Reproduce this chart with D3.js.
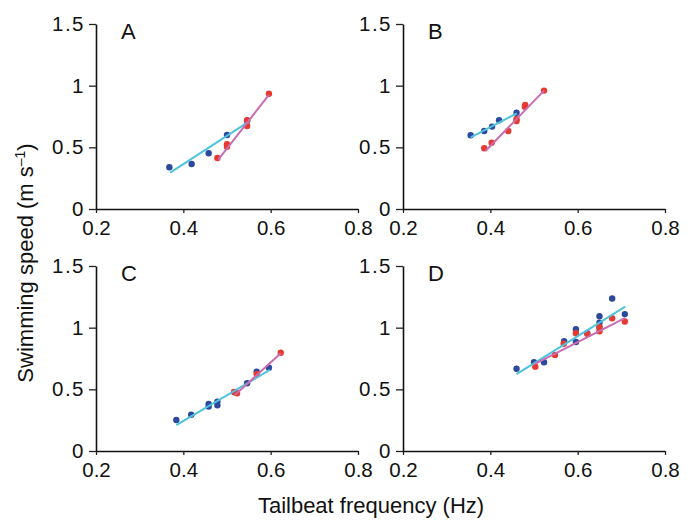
<!DOCTYPE html>
<html>
<head>
<meta charset="utf-8">
<script src="https://cdn.jsdelivr.net/npm/d3@7"></script>
<style>
  body { margin: 0; background: #fff; }
  svg text { font-family: "Liberation Sans", Arial, Helvetica, sans-serif; fill: #111; }
</style>
</head>
<body>
<svg id="chart" width="692" height="520"></svg>
<script>
// panel letters and tick values
const panelNames = ["A", "B", "C", "D"];
const xTicks = [0.2, 0.4, 0.6, 0.8];
const yTicks = [0, 0.5, 1, 1.5];

// [tailbeat frequency (Hz), swimming speed (m/s)]
const blueA = [[0.368, 0.338], [0.419, 0.365], [0.458, 0.452], [0.500, 0.600], [0.546, 0.716]];
const redA  = [[0.478, 0.414], [0.500, 0.505], [0.500, 0.525], [0.546, 0.673], [0.546, 0.720], [0.596, 0.935]];
const blueB = [[0.355, 0.598], [0.386, 0.633], [0.404, 0.668], [0.420, 0.719], [0.460, 0.781]];
const redB  = [[0.386, 0.492], [0.403, 0.538], [0.441, 0.633], [0.460, 0.714], [0.460, 0.730], [0.479, 0.830], [0.480, 0.843], [0.523, 0.960]];
const blueC = [[0.384, 0.251], [0.418, 0.294], [0.458, 0.381], [0.458, 0.360], [0.478, 0.400], [0.478, 0.370], [0.518, 0.476], [0.546, 0.549], [0.568, 0.643], [0.596, 0.676]];
const redC  = [[0.516, 0.478], [0.523, 0.468], [0.568, 0.624], [0.623, 0.797]];
const blueD = [[0.460, 0.667], [0.500, 0.720], [0.523, 0.720], [0.569, 0.890], [0.596, 0.987], [0.596, 0.884], [0.622, 0.955], [0.650, 1.092], [0.650, 1.040], [0.650, 1.000], [0.679, 1.236], [0.708, 1.110]];
const redD  = [[0.503, 0.684], [0.548, 0.779], [0.568, 0.870], [0.596, 0.955], [0.622, 0.950], [0.650, 0.970], [0.650, 1.005], [0.679, 1.076], [0.708, 1.050]];

// fitted regression lines (end points)
const fitBlueA = [[0.370, 0.295], [0.550, 0.708]];
const fitRedA  = [[0.480, 0.400], [0.596, 0.925]];
const fitBlueB = [[0.355, 0.580], [0.461, 0.776]];
const fitRedB  = [[0.389, 0.470], [0.523, 0.960]];
const fitBlueC = [[0.384, 0.210], [0.598, 0.657]];
const fitRedC  = [[0.518, 0.454], [0.623, 0.792]];
const fitBlueD = [[0.460, 0.624], [0.709, 1.170]];
const fitRedD  = [[0.500, 0.703], [0.709, 1.080]];

const blueSets = [blueA, blueB, blueC, blueD];
const redSets = [redA, redB, redC, redD];
const blueFits = [fitBlueA, fitBlueB, fitBlueC, fitBlueD];
const redFits = [fitRedA, fitRedB, fitRedC, fitRedD];

const svg = d3.select("#chart");
const pw = 262, ph = 185;
const origins = [[96, 24], [403, 24], [96, 266], [403, 266]];

const dotBlue = "#2c4a9c", dotRed = "#e63a30";
const lineBlue = "#4fc3de", lineRed = "#c96cb2";

panelNames.forEach(function(name, i) {
  const [ox, oy] = origins[i];
  const x = d3.scaleLinear().domain([0.2, 0.8]).range([ox, ox + pw]);
  const y = d3.scaleLinear().domain([0, 1.5]).range([oy + ph, oy]);
  const g = svg.append("g");

  const xAxis = g.append("g")
    .attr("transform", "translate(0," + (oy + ph) + ")")
    .call(d3.axisBottom(x).tickValues(xTicks).tickSize(4).tickSizeOuter(0).tickPadding(7).tickFormat(d3.format(".1f")));
  const yAxis = g.append("g")
    .attr("transform", "translate(" + ox + ",0)")
    .call(d3.axisLeft(y).tickValues(yTicks).tickSize(7).tickSizeOuter(0).tickPadding(4).tickFormat(d => d3.format("")(d)));

  [xAxis, yAxis].forEach(function(a) {
    a.attr("font-family", null).attr("font-size", null);
    a.select(".domain").attr("stroke", "#111").attr("stroke-width", 1.6);
    a.selectAll(".tick line").attr("stroke", "#222").attr("stroke-width", 1.3);
    a.selectAll(".tick text").style("font-size", "20.5px").attr("fill", "#111");
  });
  yAxis.selectAll(".tick text").style("letter-spacing", "1.5px");

  g.append("text")
    .attr("x", ox + 25).attr("y", oy + 15)
    .style("font-size", "22px")
    .text(name);

  const dots = g.append("g");
  dots.selectAll("circle.blue").data(blueSets[i]).enter().append("circle")
    .attr("class", "blue")
    .attr("cx", d => x(d[0])).attr("cy", d => y(d[1])).attr("r", 3.2)
    .attr("fill", dotBlue);
  dots.selectAll("circle.red").data(redSets[i]).enter().append("circle")
    .attr("class", "red")
    .attr("cx", d => x(d[0])).attr("cy", d => y(d[1])).attr("r", 3.2)
    .attr("fill", dotRed);

  const line = d3.line().x(d => x(d[0])).y(d => y(d[1]));
  g.append("path").attr("d", line(blueFits[i]))
    .attr("fill", "none").attr("stroke", lineBlue).attr("stroke-width", 2);
  g.append("path").attr("d", line(redFits[i]))
    .attr("fill", "none").attr("stroke", lineRed).attr("stroke-width", 2);
});

// axis titles
svg.append("text")
  .attr("x", 371).attr("y", 513)
  .attr("text-anchor", "middle")
  .style("font-size", "22px")
  .text("Tailbeat frequency (Hz)");

const yt = svg.append("text")
  .attr("transform", "translate(33,263) rotate(-90)")
  .attr("text-anchor", "middle")
  .style("font-size", "22px");
yt.append("tspan").text("Swimming speed (m s");
yt.append("tspan").attr("dy", -8).style("font-size", "14px").text("\u20131");
yt.append("tspan").attr("dy", 8).text(")");
</script>
</body>
</html>
